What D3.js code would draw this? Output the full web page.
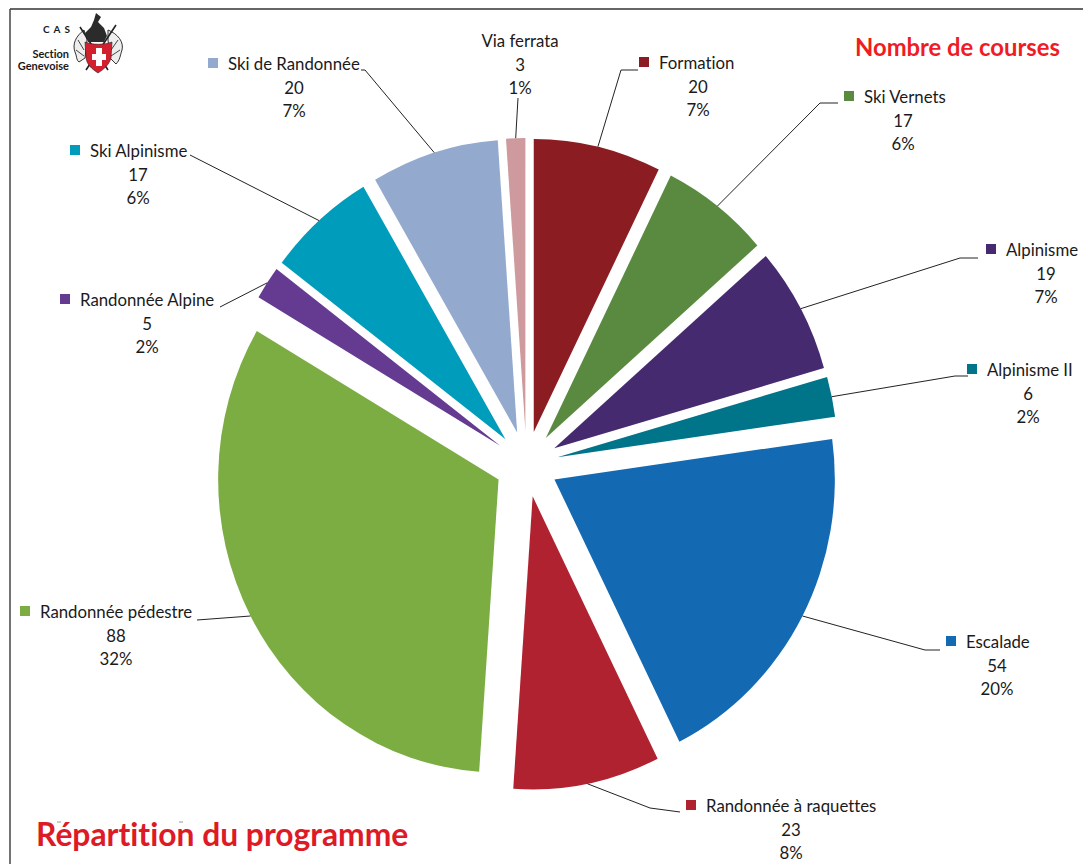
<!DOCTYPE html>
<html>
<head>
<meta charset="utf-8">
<script src="https://cdn.jsdelivr.net/npm/d3@7"></script>
<style>
	html, body { margin: 0; padding: 0; background: #fff; }
	svg { display: block; }
	text { font-family: Lato, "Open Sans", sans-serif; fill: #1a1a1a; font-variant-ligatures: none; }
</style>
</head>
<body>
<div id="chart"></div>
<script>
var width = 1083;
var height = 864;

const categories = ["Formation", "Ski Vernets", "Alpinisme", "Alpinisme II", "Escalade", "Randonnée à raquettes", "Randonnée pédestre", "Randonnée Alpine", "Ski Alpinisme", "Ski de Randonnée", "Via ferrata"];
const values = [20, 17, 19, 6, 54, 23, 88, 5, 17, 20, 3];
const percents = ["7%", "6%", "7%", "2%", "20%", "8%", "32%", "2%", "6%", "7%", "1%"];
const colors = ["#8b1c22", "#5a8a40", "#452a70", "#007489", "#1369b2", "#b12230", "#7bad42", "#653a91", "#009cbb", "#93a9ce", "#ce9a9d"];

// label layout, same order as categories: marker x, first line y, centre x of the number lines, elbow of leader, end of leader
const labelX = [644, 849, 991, 972, 951, 691, 25, 65, 75, 213, null];
const labelY = [63, 97, 250, 370, 642, 806, 612, 300, 151, 64, 41];
const centerX = [698, 903, 1046, 1028, 997, 791, 116, 147, 138, 294, 520];
const elbows = [[621, 70], [820, 103], [960, 258], [955, 376], [925, 650], [650, 808], [197, 620], [220, 307], [190, 155], [365, 70], [518, 98]];
const leaderEnds = [[638, 70], [838, 103], [978, 258], [968, 376], [940, 650], [680, 812], [197, 620], [220, 307], [190, 155], [361, 70], [518, 98]];

var cx = 526.5;
var cy = 464;
var radius = 293;
var explode = 33;
var squeeze = 0.957; // the source picture is a bit narrower than tall

var svg = d3
	.select("#chart")
	.append("svg")
	.attr("width", width)
	.attr("height", height);

// frame, only top and left sides are visible
svg.append("line").attr("x1", 10).attr("y1", 9).attr("x2", width).attr("y2", 9).attr("stroke", "#333").attr("stroke-width", 1.5);
svg.append("line").attr("x1", 10).attr("y1", 9).attr("x2", 10).attr("y2", height).attr("stroke", "#444").attr("stroke-width", 1.5);

var pie = d3.pie().sort(null).value((d) => d);
var arcs = pie(values);
var arc = d3.arc().innerRadius(0).outerRadius(radius);

function bisector(d) {
	return (d.startAngle + d.endAngle) / 2;
}

var root = svg.append("g").attr("transform", `translate(${cx},${cy}) scale(${squeeze},1)`);

root
	.selectAll("path")
	.data(arcs)
	.join("path")
	.attr("d", arc)
	.attr("fill", (d, i) => colors[i])
	.attr("transform", (d) => {
		var a = bisector(d);
		return `translate(${explode * Math.sin(a)},${-explode * Math.cos(a)})`;
	});

// leader lines start on the outer edge of each slice
var leader = d3.line();
svg
	.selectAll("path.leader")
	.data(arcs)
	.join("path")
	.attr("class", "leader")
	.attr("fill", "none")
	.attr("stroke", "#222")
	.attr("stroke-width", 1)
	.attr("d", (d, i) => {
		var a = bisector(d);
		var r = radius + explode;
		return leader([[cx + squeeze * r * Math.sin(a), cy - r * Math.cos(a)], elbows[i], leaderEnds[i]]);
	});

var labels = svg.selectAll("g.label").data(categories).join("g").attr("class", "label");

labels
	.filter((d, i) => labelX[i] !== null)
	.append("rect")
	.attr("x", function (d) { return labelX[categories.indexOf(d)] - 5; })
	.attr("y", function (d) { return labelY[categories.indexOf(d)] - 6; })
	.attr("width", 10)
	.attr("height", 10)
	.attr("fill", function (d) { return colors[categories.indexOf(d)]; });

labels
	.append("text")
	.attr("x", (d, i) => (labelX[i] === null ? centerX[i] : labelX[i] + 15))
	.attr("y", (d, i) => labelY[i] + 6)
	.attr("text-anchor", (d, i) => (labelX[i] === null ? "middle" : "start"))
	.attr("font-size", 16.8)
	.text((d) => d);

labels
	.append("text")
	.attr("x", (d, i) => centerX[i])
	.attr("y", (d, i) => labelY[i] + 30)
	.attr("text-anchor", "middle")
	.attr("font-size", 16.8)
	.text((d, i) => values[i]);

labels
	.append("text")
	.attr("x", (d, i) => centerX[i])
	.attr("y", (d, i) => labelY[i] + 53)
	.attr("text-anchor", "middle")
	.attr("font-size", 16.8)
	.text((d, i) => percents[i]);

// titles
svg.append("text").attr("x", 855).attr("y", 56).attr("font-size", 23.8).attr("font-weight", 700).style("fill", "#f01c24").text("Nombre de courses");
svg.append("text").attr("x", 36).attr("y", 846).attr("font-size", 31.8).attr("font-weight", 700).style("fill", "#dd1a26").text("Répartition du programme");

// scan leftovers above the bottom title
svg.append("line").attr("x1", 57).attr("y1", 822).attr("x2", 61).attr("y2", 822).attr("stroke", "#999");
svg.append("line").attr("x1", 179).attr("y1", 822).attr("x2", 183).attr("y2", 822).attr("stroke", "#999");

// logo
var logo = svg.append("g");
logo.append("text").attr("x", 43).attr("y", 33).attr("font-size", 10).attr("font-weight", 700).attr("letter-spacing", 4).text("CAS");
logo.append("text").attr("x", 69).attr("y", 58).attr("text-anchor", "end").attr("font-size", 11).attr("font-weight", 700).text("Section");
logo.append("text").attr("x", 69).attr("y", 70).attr("text-anchor", "end").attr("font-size", 11).attr("font-weight", 700).text("Genevoise");
// mantling
logo.append("path").attr("d", "M84 30 C76 36 72 44 75 52 C77 56 76 60 79 62 L85 58 L87 40 Z M108 30 C118 34 124 42 122 50 C120 56 120 60 116 64 L110 58 L108 40 Z").attr("fill", "#eee").attr("stroke", "#333").attr("stroke-width", 1);
logo.append("path").attr("d", "M78 40 L84 50 M76 50 L84 56 M118 40 L111 50 M120 50 L111 56").attr("fill", "none").attr("stroke", "#444").attr("stroke-width", 1);
// crossed sticks
logo.append("path").attr("d", "M116 25 L86 70 M80 27 L108 70").attr("fill", "none").attr("stroke", "#222").attr("stroke-width", 1.6);
// crest and helmet
logo.append("path").attr("d", "M96 13 L101 17 L98 22 L104 28 L107 36 L104 42 L88 42 L85 33 L91 27 L94 20 Z").attr("fill", "#2b2b2b");
// shield
logo.append("path").attr("d", "M85 42 C93 45 104 45 112 42 L111 58 C109 65 104 69 98 73 C92 69 87 65 86 58 Z").attr("fill", "#d3202e").attr("stroke", "#222").attr("stroke-width", 0.6);
logo.append("path").attr("d", "M96 48 L102 48 L102 54 L106 54 L106 60 L102 60 L102 66 L96 66 L96 60 L92 60 L92 54 L96 54 Z").attr("fill", "#fff");
</script>
</body>
</html>
